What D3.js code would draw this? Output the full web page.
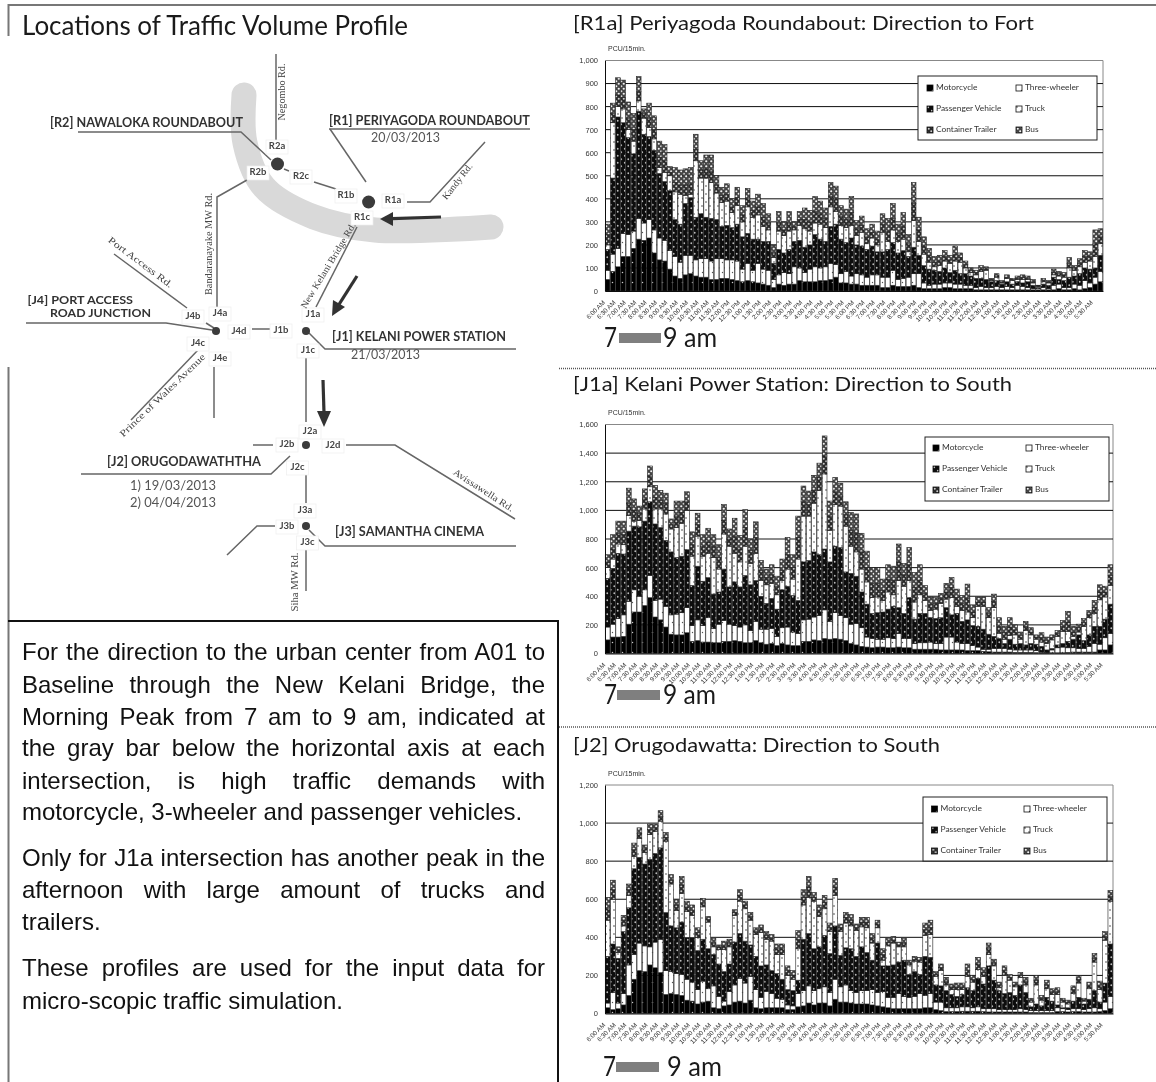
<!DOCTYPE html>
<html lang="en">
<head>
<meta charset="UTF-8">
<title>Traffic Volume Profile</title>
<script src="https://d3js.org/d3.v7.min.js"></script>
<style>
  body { margin: 0; background: #fff; }
  svg { display: block; }
  text { font-family: Lato, sans-serif; }
  .axis text { font-family: "Liberation Sans", sans-serif; fill: #333; }
</style>
</head>
<body>
<svg width="1156" height="1082"></svg>
<script>
// tick labels, one every second bar (15 min. bars)
const timeLabels = ["6:00 AM","6:30 AM","7:00 AM","7:30 AM","8:00 AM","8:30 AM","9:00 AM","9:30 AM","10:00 AM","10:30 AM","11:00 AM","11:30 AM","12:00 PM","12:30 PM","1:00 PM","1:30 PM","2:00 PM","2:30 PM","3:00 PM","3:30 PM","4:00 PM","4:30 PM","5:00 PM","5:30 PM","6:00 PM","6:30 PM","7:00 PM","7:30 PM","8:00 PM","8:30 PM","9:00 PM","9:30 PM","10:00 PM","10:30 PM","11:00 PM","11:30 PM","12:00 AM","12:30 AM","1:00 AM","1:30 AM","2:00 AM","2:30 AM","3:00 AM","3:30 AM","4:00 AM","4:30 AM","5:00 AM","5:30 AM"];
const seriesNames = ["Motorcycle","Three-wheeler","Passenger Vehicle","Truck","Container Trailer","Bus"];

const r1aMotorcycle = [50,85,105,150,150,185,225,220,230,165,135,130,95,65,55,70,75,65,60,60,50,50,55,55,50,45,40,45,40,35,30,25,15,30,25,30,30,45,40,40,40,45,45,50,60,35,35,30,30,25,25,25,25,15,15,25,20,20,20,25,15,10,10,10,10,15,15,10,10,10,10,5,5,5,5,5,5,5,5,5,5,5,5,5,5,5,5,10,5,5,10,5,10,15,30,40];
const r1aThreeWheeler = [90,160,185,250,245,260,315,295,310,265,230,220,175,150,125,155,155,135,140,140,130,140,140,135,135,130,95,120,90,120,95,90,50,70,80,75,105,100,80,95,105,100,105,120,115,75,85,65,75,70,60,70,70,60,60,90,50,55,60,75,75,35,25,30,30,35,35,30,30,25,25,15,20,15,15,20,15,20,15,25,20,15,10,10,15,10,25,30,15,15,30,25,45,35,60,85];
const r1aPassenger = [180,490,755,730,665,595,780,680,670,610,510,475,435,310,290,380,405,320,335,320,315,310,280,285,275,290,235,250,225,225,215,215,120,180,165,180,215,220,190,200,245,225,215,280,290,225,210,230,200,195,180,195,170,170,180,210,165,175,150,190,155,110,95,90,85,100,80,90,75,75,65,55,55,50,40,45,30,40,30,40,35,40,25,15,30,25,60,50,45,60,65,75,100,95,100,155];
const r1aTruck = [200,730,800,790,700,650,825,750,710,660,535,515,500,430,420,415,420,565,490,490,470,425,385,390,340,370,300,365,320,330,280,265,145,260,240,260,265,285,270,260,295,290,275,365,345,285,275,285,240,255,205,230,200,255,215,265,215,225,170,305,215,160,125,105,110,130,120,130,125,100,80,70,85,90,45,60,35,55,45,50,50,50,35,20,40,35,70,65,60,100,90,105,125,130,150,205];
const r1aContainer = [245,770,850,840,750,700,865,770,750,700,580,565,515,470,460,460,465,615,525,530,520,460,415,420,365,405,330,400,350,365,320,295,165,295,265,295,280,310,310,300,345,335,315,410,400,325,310,340,270,285,235,255,225,290,260,315,250,280,205,380,265,195,155,125,130,150,135,160,145,115,90,80,95,95,50,65,40,60,50,55,60,55,40,22,45,40,80,75,70,120,100,120,150,150,205,235];
const r1aBus = [290,815,925,915,820,770,930,790,815,760,650,635,540,535,525,530,535,680,565,590,590,500,450,465,400,450,370,445,390,420,380,335,200,345,300,345,300,345,360,350,410,390,360,470,455,370,355,410,305,325,270,290,260,335,315,380,290,340,245,470,320,235,185,150,155,175,155,195,165,130,100,90,110,105,55,75,45,70,55,65,70,65,50,25,55,45,95,85,80,145,110,140,175,170,265,270];
const r1aTicks = [0,100,200,300,400,500,600,700,800,900,1000];

const j1aMotorcycle = [95,115,115,120,205,290,290,335,390,255,235,185,135,130,130,145,85,90,80,80,75,75,85,85,90,85,75,75,90,75,65,70,55,70,60,55,55,85,85,95,90,105,100,105,100,90,70,60,50,45,40,45,45,40,40,45,40,40,30,30,30,30,30,25,25,25,25,25,20,20,20,15,12,10,10,10,10,8,8,8,8,6,6,5,5,5,5,8,10,10,10,10,10,25,25,60];
const j1aThreeWheeler = [185,205,245,270,365,445,400,445,545,370,380,330,270,275,285,320,195,235,195,250,175,205,230,205,195,185,200,160,225,170,170,175,120,180,185,150,140,235,240,255,265,305,225,285,265,250,205,210,180,115,105,100,100,110,105,140,105,105,70,75,75,80,70,70,115,115,80,70,70,55,45,30,30,35,35,35,30,25,25,25,25,20,10,8,25,40,45,40,40,35,35,50,70,65,110,140];
const j1aPassenger = [525,595,700,695,855,890,885,925,1060,905,880,790,710,670,680,725,475,610,505,530,415,430,590,465,500,465,545,480,510,400,350,385,310,445,470,405,370,640,650,710,690,730,640,750,740,570,560,540,430,345,280,285,290,310,330,320,280,390,240,280,280,250,245,250,320,270,280,225,235,195,190,170,135,120,105,70,100,65,70,60,70,65,50,25,35,60,70,85,100,130,90,130,190,190,240,345];
const j1aTruck = [600,660,765,760,965,925,930,1010,1165,1010,1010,975,870,880,910,1000,680,820,680,700,670,590,835,750,700,640,750,630,700,510,480,490,410,510,590,520,660,960,960,1050,1140,1255,860,1040,1030,890,750,710,590,500,390,395,370,430,410,510,470,510,360,410,370,300,310,350,380,390,330,300,290,250,330,330,250,320,140,100,125,130,100,160,130,100,80,70,95,120,155,155,120,150,190,250,280,375,395,475];
const j1aContainer = [640,730,840,830,1050,1000,980,1080,1240,1090,1070,1050,900,960,985,1060,760,900,750,780,750,670,930,800,820,730,880,720,810,580,530,550,470,580,690,600,810,1060,1040,1140,1230,1380,960,1130,1100,970,860,840,710,600,490,490,440,520,510,640,550,620,460,510,420,345,350,385,430,460,390,350,385,290,360,360,280,365,190,145,185,165,125,190,150,115,110,90,110,140,190,220,150,180,215,275,320,430,430,545];
const j1aBus = [690,830,925,925,1155,1080,1030,1150,1310,1175,1140,1120,940,1065,1065,1130,850,980,830,875,830,760,1040,870,945,825,1005,800,920,650,590,620,540,660,810,690,960,1170,1135,1245,1330,1520,1065,1230,1190,1060,985,975,840,715,600,600,520,620,610,765,630,740,565,620,475,395,390,420,490,530,450,405,485,340,395,395,320,415,250,190,250,200,150,225,180,130,145,115,130,160,230,295,190,205,245,300,370,480,470,620];
const j1aTicks = [0,200,400,600,800,1000,1200,1400,1600];

const j2Motorcycle = [30,20,25,45,95,180,225,220,255,240,215,100,105,100,95,70,65,50,60,65,30,25,40,45,60,65,55,70,30,25,30,30,30,30,20,20,35,40,55,45,55,55,40,75,60,60,55,50,50,50,45,40,35,30,25,25,25,25,25,25,30,30,20,15,10,10,10,12,12,12,12,10,8,8,8,8,8,8,8,8,5,5,5,5,5,10,10,8,10,10,8,8,8,10,15,25];
const j2ThreeWheeler = [55,110,55,105,255,310,370,355,350,375,390,225,220,210,205,180,165,125,170,130,145,90,65,115,150,185,160,195,125,85,115,105,80,75,45,40,105,120,145,120,130,140,110,180,140,150,120,110,120,120,125,110,115,85,85,105,90,85,90,105,95,105,60,60,30,30,30,35,35,30,35,25,25,25,20,20,20,20,25,20,15,15,15,15,15,30,25,20,25,25,20,25,30,25,60,90];
const j2Passenger = [300,365,290,430,555,760,820,785,810,840,870,530,460,450,480,400,400,330,390,340,310,260,220,260,375,420,380,360,300,250,255,225,210,180,125,120,175,390,420,340,350,410,315,460,305,345,340,300,350,320,280,370,250,250,255,270,280,205,220,205,300,295,150,145,120,100,90,100,135,120,185,155,250,175,120,105,110,95,150,110,35,50,40,85,65,45,30,30,65,85,50,75,120,60,160,365];
const j2Truck = [490,600,320,460,620,825,920,845,940,955,1010,905,680,540,630,535,515,400,560,480,350,335,335,350,515,590,550,490,415,425,390,380,310,310,200,180,340,570,610,590,510,550,430,620,430,475,460,435,455,450,370,450,280,355,370,350,350,255,275,270,410,415,195,225,150,125,125,125,195,165,230,195,310,250,135,200,175,140,190,150,60,150,70,130,100,100,60,50,105,160,65,130,270,125,385,590];
const j2Container = [550,650,335,490,650,860,945,865,965,975,1035,925,700,570,675,560,540,425,580,495,370,350,355,370,530,620,570,510,430,445,410,395,340,340,225,200,390,610,665,610,540,585,450,665,450,505,490,450,480,480,395,470,310,375,385,360,370,265,285,280,440,450,205,240,170,140,140,140,225,180,260,215,340,265,150,225,190,150,200,170,70,175,80,150,115,115,70,60,125,180,72,145,290,145,405,615];
const j2Bus = [610,700,350,515,680,895,975,885,995,995,1065,950,730,600,720,590,570,450,605,510,395,360,380,390,545,650,590,530,450,465,430,415,365,365,250,225,435,650,720,635,570,620,475,710,470,530,520,470,505,505,420,490,340,395,405,375,395,280,300,295,475,490,220,260,190,155,160,160,260,200,295,240,370,285,165,250,205,165,215,190,80,200,95,175,130,135,80,70,145,200,80,165,315,170,430,645];
const j2Ticks = [0,200,400,600,800,1000,1200];

const svg = d3.select("svg");
svg.append("rect").attr("width", 1156).attr("height", 1082).attr("fill", "#fff");

const defs = svg.append("defs");
defs.append("filter").attr("id", "soft").attr("x", 0).attr("y", 0).attr("width", 1).attr("height", 1)
  .append("feGaussianBlur").attr("stdDeviation", 0.35);

// dot fills that stand in for the spreadsheet's hatch patterns
function dotPattern(id, size, bg, fg, r, stagger) {
  const p = defs.append("pattern").attr("id", id).attr("patternUnits", "userSpaceOnUse")
    .attr("width", size).attr("height", size);
  p.append("rect").attr("width", size).attr("height", size).attr("fill", bg);
  p.append("circle").attr("cx", size / 4).attr("cy", size / 4).attr("r", r).attr("fill", fg);
  if (stagger) p.append("circle").attr("cx", 3 * size / 4).attr("cy", 3 * size / 4).attr("r", r).attr("fill", fg);
}
dotPattern("p0", 10, "#000", "#ccc", 0.75, false);
dotPattern("p1", 10, "#fff", "#555", 0.7, false);
dotPattern("p2", 7, "#0a0a0a", "#bbb", 0.9, true);
dotPattern("p3", 8, "#fff", "#333", 0.75, true);
dotPattern("p4", 5, "#2a2a2a", "#ccc", 1, true);
dotPattern("p5", 5, "#444", "#f2f2f2", 1.1, true);

const seriesKeys = d3.range(seriesNames.length);
const fillFor = i => `url(#p${i})`;

function drawChart(opt) {
  const g = svg.append("g").attr("filter", "url(#soft)");
  const x = d3.scaleBand().domain(d3.range(opt.tops[0].length))
    .range([opt.left, opt.right]).paddingInner(0.1).paddingOuter(0.05);
  const y = d3.scaleLinear().domain([0, d3.max(opt.ticks)]).range([opt.bottom, opt.top]);

  // plot frame and gridlines
  g.append("path").attr("fill", "none").attr("stroke", "#888").attr("stroke-width", 1)
    .attr("d", `M${opt.left},${opt.top}H${opt.right}V${opt.bottom}`);
  g.append("g").selectAll("line").data(opt.ticks.slice(1, -1)).enter().append("line")
    .attr("x1", opt.left).attr("x2", opt.right)
    .attr("y1", d => y(d)).attr("y2", d => y(d))
    .attr("stroke", "#111").attr("stroke-width", 1);

  // tops are cumulative, so turn them back into layers for d3.stack
  const rows = opt.tops[0].map((_, j) => {
    const row = {};
    opt.tops.forEach((t, i) => { row[i] = t[j] - (i ? opt.tops[i - 1][j] : 0); });
    return row;
  });
  const stacked = d3.stack().keys(seriesKeys)(rows);
  g.append("g").selectAll("g").data(stacked).enter().append("g")
    .attr("fill", d => fillFor(d.key))
    .selectAll("rect").data(d => d).enter().append("rect")
    .attr("x", (d, j) => x(j))
    .attr("y", d => y(d[1]))
    .attr("width", x.bandwidth())
    .attr("height", d => y(d[0]) - y(d[1]))
    .attr("stroke", "#222").attr("stroke-width", 0.6);

  // axes
  const yAxis = g.append("g").attr("class", "axis").attr("transform", `translate(${opt.left},0)`)
    .call(d3.axisLeft(y).tickValues(opt.ticks).tickSize(0).tickPadding(7).tickFormat(d3.format(",")));
  yAxis.selectAll("text").attr("font-size", 7.5);
  yAxis.select(".domain").attr("stroke", "#111");
  const xAxis = g.append("g").attr("class", "axis").attr("transform", `translate(0,${opt.bottom})`)
    .call(d3.axisBottom(x).tickValues(d3.range(0, 96, 2)).tickSize(0).tickFormat(i => timeLabels[i / 2]));
  xAxis.select(".domain").attr("stroke", "#111");
  xAxis.selectAll("text").attr("font-size", 6.4).attr("text-anchor", "end")
    .attr("dx", 0).attr("dy", 0).attr("y", 0)
    .attr("transform", "translate(-2,12) rotate(-45)");

  g.append("text").attr("x", opt.left + 3).attr("y", opt.top - 11).attr("font-size", 7).attr("fill", "#333")
    .attr("dominant-baseline", "middle").style("font-family", "Liberation Sans").text("PCU/15min.");

  // legend, filled down the columns
  const lg = opt.legend;
  g.append("rect").attr("x", lg.x0).attr("y", lg.y0).attr("width", lg.x1 - lg.x0).attr("height", lg.y1 - lg.y0)
    .attr("fill", "#fff").attr("stroke", "#222").attr("stroke-width", 1);
  const leg = g.append("g").selectAll("g").data(seriesNames).enter().append("g")
    .attr("transform", (d, i) => `translate(${lg.cols[i % 2]},${lg.rows[Math.floor(i / 2)]})`);
  leg.append("rect").attr("x", -3).attr("y", -3).attr("width", 6).attr("height", 6)
    .attr("fill", (d, i) => fillFor(i)).attr("stroke", "#111").attr("stroke-width", 0.8);
  leg.append("text").attr("x", 6).attr("font-size", 8.4).attr("fill", "#333")
    .attr("dominant-baseline", "middle").text(d => d);

  // title and morning peak marker
  fitText(svg, opt.title, 573, opt.titleEnd, opt.titleY + 2.5, 20);
  fitText(svg, "7", opt.peak.x7, opt.peak.x7 + 13, opt.peak.y + 2, 26);
  svg.append("rect").attr("x", opt.peak.bar0).attr("y", opt.peak.y - 5).attr("width", opt.peak.bar1 - opt.peak.bar0).attr("height", 10).attr("fill", "#7f7f7f");
  fitText(svg, "9 am", opt.peak.x9, opt.peak.x9end, opt.peak.y + 2, 26);
}

// text squeezed to the width it has in the picture
function fitText(parent, str, x0, x1, cy, size, o) {
  o = o || {};
  return parent.append("text").attr("x", x0).attr("y", cy).attr("font-size", size)
    .attr("dominant-baseline", "middle")
    .attr("textLength", x1 - x0).attr("lengthAdjust", "spacingAndGlyphs")
    .attr("font-weight", o.weight || 400).attr("fill", o.fill || "#1a1a1a").text(str);
}

drawChart({
  title: "[R1a] Periyagoda Roundabout: Direction to Fort", titleEnd: 1034, titleY: 22,
  tops: [r1aMotorcycle, r1aThreeWheeler, r1aPassenger, r1aTruck, r1aContainer, r1aBus], ticks: r1aTicks,
  left: 605, right: 1103, top: 60.5, bottom: 291,
  legend: { x0: 918, x1: 1097, y0: 76, y1: 140, cols: [930, 1019], rows: [88, 109, 130] },
  peak: { x7: 604, bar0: 619, bar1: 661, x9: 663, x9end: 717, y: 338 }
});
drawChart({
  title: "[J1a] Kelani Power Station: Direction to South", titleEnd: 1012, titleY: 383,
  tops: [j1aMotorcycle, j1aThreeWheeler, j1aPassenger, j1aTruck, j1aContainer, j1aBus], ticks: j1aTicks,
  left: 605, right: 1113, top: 424.5, bottom: 653.5,
  legend: { x0: 925, x1: 1109, y0: 437, y1: 501, cols: [936, 1029], rows: [448, 469, 490] },
  peak: { x7: 604, bar0: 617, bar1: 660, x9: 663, x9end: 716, y: 695 }
});
drawChart({
  title: "[J2] Orugodawatta: Direction to South", titleEnd: 940, titleY: 744,
  tops: [j2Motorcycle, j2ThreeWheeler, j2Passenger, j2Truck, j2Container, j2Bus], ticks: j2Ticks,
  left: 605, right: 1113, top: 785, bottom: 1013.5,
  legend: { x0: 923, x1: 1107, y0: 797, y1: 861, cols: [934.5, 1027], rows: [809, 830, 851] },
  peak: { x7: 603, bar0: 616, bar1: 659, x9: 667, x9end: 722, y: 1067 }
});

// page frame
const frame = svg.append("g").attr("fill", "none");
frame.append("path").attr("stroke", "#777").attr("stroke-width", 2).attr("d", "M8.5,36V5H1156");
frame.append("path").attr("stroke", "#777").attr("stroke-width", 2).attr("d", "M8.5,367V1082");
frame.append("path").attr("stroke", "#111").attr("stroke-width", 2).attr("d", "M8,621H558V1082");
[368.5, 727].forEach(yy => frame.append("line").attr("x1", 559).attr("x2", 1156).attr("y1", yy).attr("y2", yy)
  .attr("stroke", "#555").attr("stroke-width", 1.5).attr("stroke-dasharray", "1 1"));

fitText(svg, "Locations of Traffic Volume Profile", 22, 408, 28, 26);

// explanation box, justified line by line
const bodyLines = [
  ["For the direction to the urban center from A01 to", 654, true],
  ["Baseline through the New Kelani Bridge, the", 687, true],
  ["Morning Peak from 7 am to 9 am, indicated at", 719, true],
  ["the gray bar below the horizontal axis at each", 750, true],
  ["intersection, is high traffic demands with", 783, true],
  ["motorcycle, 3-wheeler and passenger vehicles.", 814, false],
  ["Only for J1a intersection has another peak in the", 860, true],
  ["afternoon with large amount of trucks and", 892, true],
  ["trailers.", 924, false],
  ["These profiles are used for the input data for", 970, true],
  ["micro-scopic traffic simulation.", 1003, false]
];
bodyLines.forEach(([str, yy, just]) => {
  const t = svg.append("text").attr("x", 22).attr("y", yy).attr("font-size", 24)
    .attr("dominant-baseline", "middle").attr("fill", "#111")
    .style("font-family", "Liberation Sans").text(str);
  if (just) {
    const gaps = str.split(" ").length - 1;
    t.attr("word-spacing", (523 - t.node().getComputedTextLength()) / gaps);
  }
});

// location map
const map = svg.append("g").attr("filter", "url(#soft)");
const bandPoints = [[244, 95], [245, 143], [264, 187], [314, 217], [375, 230], [491, 227]];
map.append("path").attr("fill", "none").attr("stroke", "#d9d9d9").attr("stroke-width", 25).attr("stroke-linecap", "round")
  .attr("d", d3.line().curve(d3.curveCatmullRom)(bandPoints));

const roads = [
  [[276, 54], [276, 140]],
  [[78, 132], [241, 132], [271, 160]],
  [[329, 129], [530, 129]], [[330, 129], [366, 182]],
  [[314, 182], [336, 189]], [[284, 169], [289, 171]],
  [[407, 202], [430, 202], [485, 142]],
  [[247, 180], [217, 197], [217, 310]],
  [[114, 254], [187, 308]], [[206, 323], [214, 328]],
  [[26, 323], [166, 323], [212, 330]],
  [[252, 329], [270, 329]],
  [[357, 227], [316, 307]],
  [[309, 333], [325, 349], [516, 349]],
  [[306, 357], [306, 422]],
  [[198, 350], [131, 420]],
  [[214, 367], [214, 418]],
  [[253, 445], [273, 445]],
  [[346, 445], [395, 445], [515, 519]],
  [[81, 474], [271, 474], [290, 456]],
  [[306, 475], [306, 503]],
  [[275, 526], [257, 526], [227, 555]],
  [[309, 530], [325, 546], [516, 546]],
  [[306, 550], [306, 591]]
];
map.append("g").selectAll("path").data(roads).enter().append("path")
  .attr("fill", "none").attr("stroke", "#666").attr("stroke-width", 1.5)
  .attr("d", d3.line());

const nodes = [[277.5, 164, 6.5], [368.6, 202, 6.5], [216, 331, 4], [306, 331, 4], [306, 445, 4], [306, 526, 4]];
map.append("g").selectAll("circle").data(nodes).enter().append("circle")
  .attr("cx", d => d[0]).attr("cy", d => d[1]).attr("r", d => d[2]).attr("fill", "#3a3a3a");

// direction arrows
const arrows = [[[441, 217], [392, 218.7]], [[357, 276], [338, 306]], [[323, 380], [324, 413]]];
map.append("g").selectAll("path").data(arrows).enter().append("path")
  .attr("fill", "none").attr("stroke", "#333").attr("stroke-width", 3.2).attr("d", d3.line());
const heads = [[[380, 219], [393, 212], [393, 226]], [[332, 316], [333, 300], [345, 307]], [[324, 427], [317, 411], [331, 411]]];
map.append("g").selectAll("path").data(heads).enter().append("path")
  .attr("fill", "#333").attr("d", d => d3.line()(d) + "Z");

const nodeLabels = [["R2a",277,147],["R2b",258,173],["R2c",301,177],["R1b",346,196],["R1a",393,201],["R1c",362,218],["J4a",220,314],["J4b",193,317],["J4d",239,332],["J1b",281,331],["J1a",313,315],["J4c",198,344],["J4e",220,359],["J1c",308,351],["J2a",310,432],["J2b",287,445],["J2d",333,446],["J2c",297.5,468],["J3a",305,511],["J3b",287,527],["J3c",307.5,543]];
const nl = map.append("g").selectAll("g").data(nodeLabels).enter().append("g")
  .attr("transform", d => `translate(${d[1]},${d[2]})`);
nl.append("rect").attr("x", -11).attr("y", -7).attr("width", 22).attr("height", 14)
  .attr("fill", "#fff").attr("stroke", "#eee").attr("stroke-width", 0.7);
nl.append("text").attr("text-anchor", "middle").attr("dominant-baseline", "middle")
  .attr("font-size", 9.5).attr("font-weight", 700).attr("fill", "#444").text(d => d[0]);

const placeLabels = [
  ["[R2] NAWALOKA ROUNDABOUT", 50, 243, 124, 700, "#333", 12.5],
  ["[R1] PERIYAGODA ROUNDABOUT", 329, 530, 122, 700, "#333", 12.5],
  ["20/03/2013", 371, 440, 139, 400, "#555", 12.5],
  ["[J4] PORT ACCESS", 27.5, 133, 301.3, 700, "#333", 10.5],
  ["ROAD JUNCTION", 50, 151, 314, 700, "#333", 10.5],
  ["[J1] KELANI POWER STATION", 332, 506, 338, 700, "#333", 12.5],
  ["21/03/2013", 351, 420, 356, 400, "#555", 12.5],
  ["[J2] ORUGODAWATHTHA", 107, 261, 463, 700, "#333", 12.5],
  ["1) 19/03/2013", 130, 216, 487, 400, "#555", 12.5],
  ["2) 04/04/2013", 130, 216, 504, 400, "#555", 12.5],
  ["[J3] SAMANTHA CINEMA", 335, 484, 533, 700, "#333", 12.5]
];
placeLabels.forEach(d => fitText(map, d[0], d[1], d[2], d[3], d[6], { weight: d[4], fill: d[5] }));

const roadNames = [
  ["Negombo Rd.", 283, 92, -90, 57],
  ["Kandy Rd.", 458, 182, -52, 43],
  ["Bandaranayake MW Rd.", 210, 244, -90, 102],
  ["New Kelani Bridge Rd.", 329, 266, -59, 98],
  ["Port Access Rd.", 140, 263, 37, 78],
  ["Prince of Wales Avenue", 163, 396, -44, 115],
  ["Avissawella Rd.", 483, 491, 33, 70],
  ["Siha MW Rd.", 296, 582, -90, 59]
];
map.append("g").selectAll("text").data(roadNames).enter().append("text")
  .attr("transform", d => `translate(${d[1]},${d[2]}) rotate(${d[3]})`)
  .attr("text-anchor", "middle").attr("dominant-baseline", "middle")
  .attr("font-size", 9.5).attr("fill", "#444")
  .attr("textLength", d => d[4]).attr("lengthAdjust", "spacingAndGlyphs")
  .style("font-family", "Liberation Serif").text(d => d[0]);
</script>
</body>
</html>
